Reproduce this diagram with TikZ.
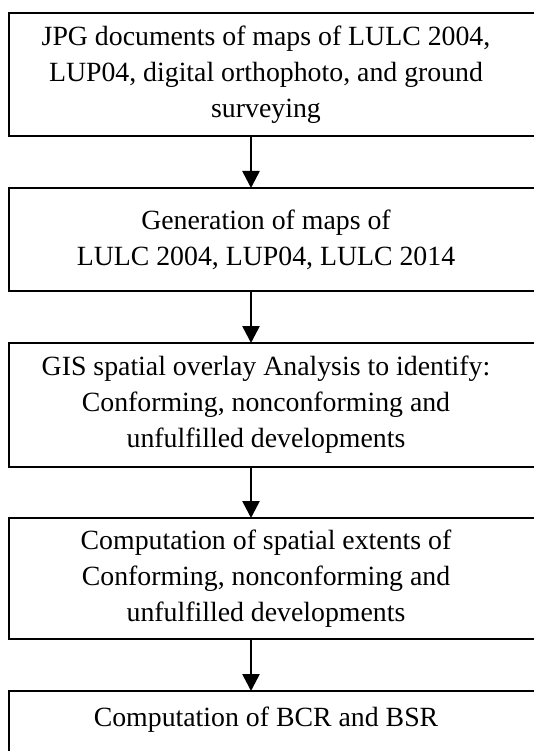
\documentclass[tikz,border=0pt]{standalone}
\usepackage{fontspec}
\setmainfont{Liberation Serif}
\usetikzlibrary{positioning,arrows.meta,calc}

\begin{document}
\begin{tikzpicture}[
    x=1pt, y=-1pt,
    >=Stealth,
    every node/.style={font=\fontsize{27.8}{36}\selectfont},
    box/.style={draw, line width=1.6pt, outer sep=0pt, inner sep=0pt, minimum width=536pt, anchor=north west},
    boxtext/.style={align=center, inner sep=0pt},
    flowarrow/.style={-{Triangle[length=17pt,width=17pt]}, line width=2.6pt},
]
\useasboundingbox (0,0) rectangle (534,751);
\clip (0,0) rectangle (534,751);

% ---- Boxes ----
\node[box, minimum height=123pt] (jpg) at (9,13) {};
\node[box, minimum height=103pt] (gen) at (9,188) {};
\node[box, minimum height=124pt] (gis) at (9,343) {};
\node[box, minimum height=121pt] (extent) at (9,518) {};
\node[box, minimum height=64pt] (bcr) at (9,691) {};

% ---- Texts ----
\node[boxtext] (jpgtext) at ([xshift=-11pt]jpg.center) {JPG documents of maps of LULC 2004,\\LUP04, digital orthophoto, and ground\\surveying};
\node[boxtext] (gentext) at ([xshift=-11pt]gen.center) {Generation of maps of\\LULC 2004, LUP04, LULC 2014};
\node[boxtext] (gistext) at ([xshift=-11pt]gis.center) {GIS spatial overlay Analysis to identify:\\Conforming, nonconforming and\\unfulfilled developments};
\node[boxtext] (extenttext) at ([xshift=-11pt]extent.center) {Computation of spatial extents of\\Conforming, nonconforming and\\unfulfilled developments};
\node[boxtext] (bcrtext) at ([xshift=-11pt,yshift=-29pt]bcr.north) {Computation of BCR and BSR};

% ---- Arrows ----
\coordinate (axis) at (251,0);
\draw[flowarrow] (jpg.south -| axis) -- (gen.north -| axis);
\draw[flowarrow] (gen.south -| axis) -- (gis.north -| axis);
\draw[flowarrow] (gis.south -| axis) -- (extent.north -| axis);
\draw[flowarrow] (extent.south -| axis) -- (bcr.north -| axis);

\end{tikzpicture}
\end{document}
